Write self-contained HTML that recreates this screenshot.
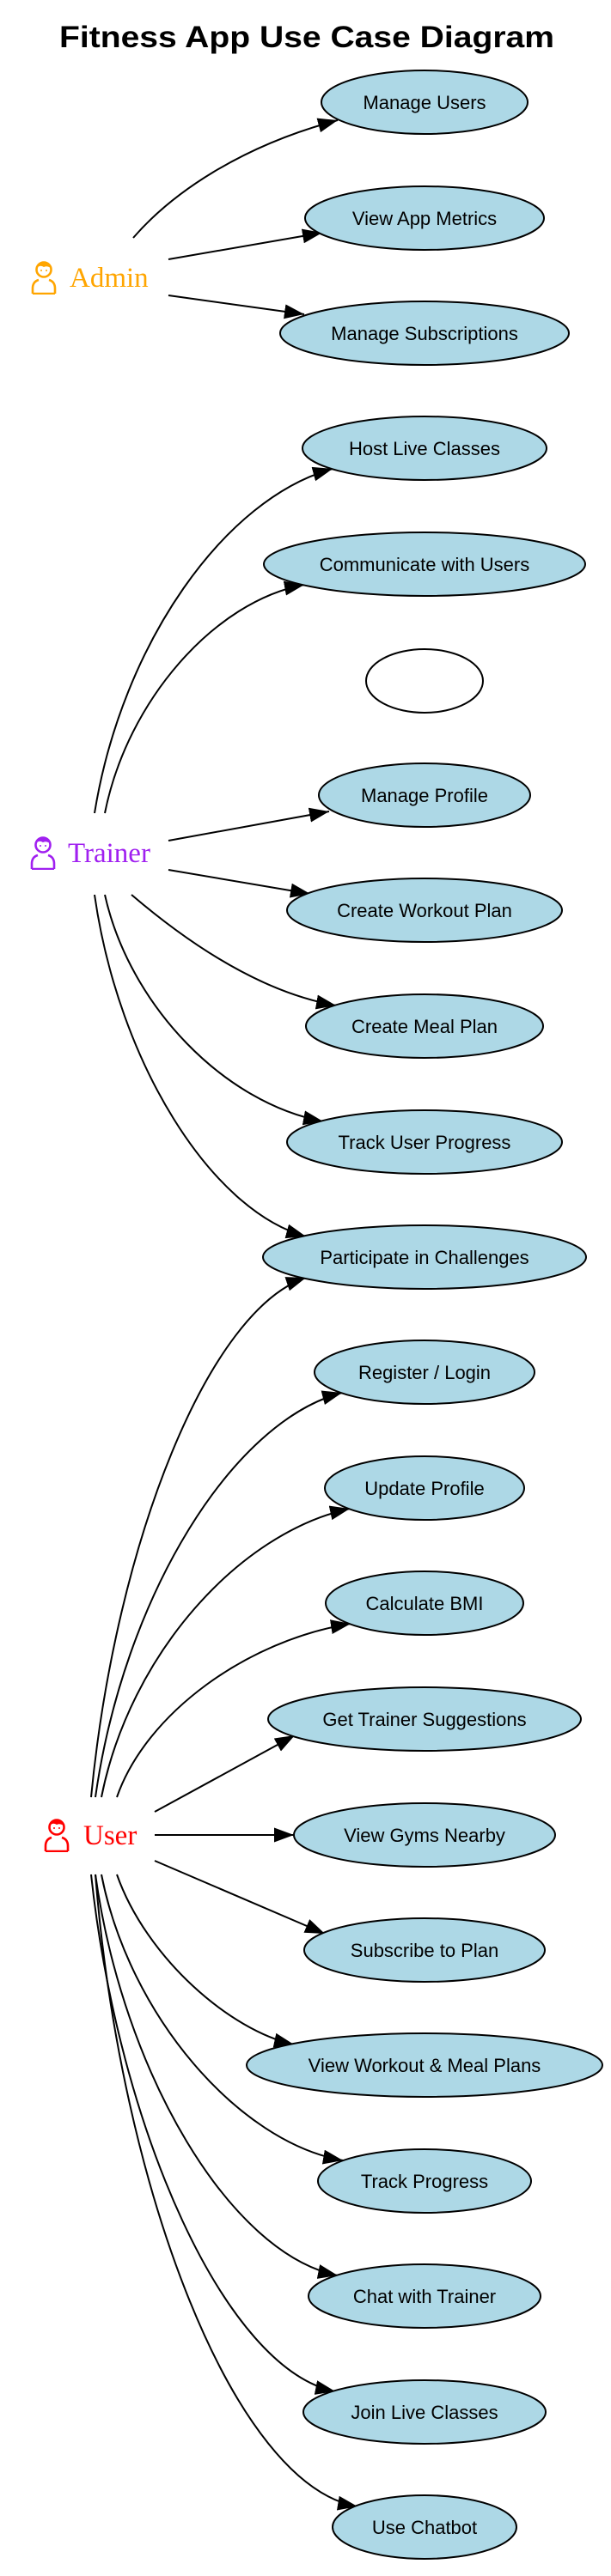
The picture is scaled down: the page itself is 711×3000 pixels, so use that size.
<!DOCTYPE html>
<html><head><meta charset="utf-8"><style>html,body{margin:0;padding:0;background:#fff}svg{display:block}</style></head>
<body>
<svg width="711" height="3000" viewBox="0 0 711 3000" xmlns="http://www.w3.org/2000/svg">
<defs>
<marker id="a" markerUnits="userSpaceOnUse" markerWidth="24" markerHeight="18" refX="23" refY="8.5" orient="auto"><path d="M0,0 L23,8.5 L0,17 z" fill="#000"/></marker>
<symbol id="p" viewBox="0 0 32 40"><g fill="none" stroke="currentColor" stroke-width="2.6"><circle cx="16" cy="11" r="8.5"/><path d="M3,39 V33 Q3,25 10,23 M29,39 V33 Q29,25 22,23 M3,39 H29"/></g><path d="M7.5,9 Q10,2 16,2.5 Q23,2 24.5,9 Q19,6 16,8 Q12,5 7.5,9z" fill="currentColor"/><circle cx="13" cy="12" r="1" fill="currentColor"/><circle cx="19" cy="12" r="1" fill="currentColor"/></symbol>
</defs>
<rect width="711" height="3000" fill="#fff"/>
<text x="357" y="55" text-anchor="middle" font-family="Liberation Sans, sans-serif" font-weight="bold" font-size="35" textLength="576" lengthAdjust="spacingAndGlyphs">Fitness App Use Case Diagram</text>

<g fill="none" stroke="#000" stroke-width="2" marker-end="url(#a)">
<path d="M155,277 C200,225 280,170 393,140"/>
<path d="M196,302 L375,271"/>
<path d="M196,344 L354,366"/>
<path d="M110,947 C142,749 262,580 387,546"/>
<path d="M122,947 C148,816 250,700 354,681"/>
<path d="M196,979 L383,945"/>
<path d="M196,1013 L361,1041"/>
<path d="M153,1042 C215,1095 300,1155 391,1171"/>
<path d="M122,1042 C151,1172 262,1285 376,1306"/>
<path d="M110,1042 C138,1238 246,1410 356,1440"/>
<path d="M106,2093 C135,1793 244,1525 356,1488"/>
<path d="M111,2093 C144,1860 270,1655 398,1622"/>
<path d="M118,2093 C151,1927 278,1785 407,1757"/>
<path d="M136,2093 C170,1995 288,1910 408,1891"/>
<path d="M180,2110 L343,2021"/>
<path d="M180,2137 L342,2137"/>
<path d="M180,2167 L378,2252"/>
<path d="M136,2183 C170,2280 268,2365 342,2381"/>
<path d="M118,2183 C150,2347 278,2495 399,2516"/>
<path d="M111,2183 C143,2414 268,2625 393,2650"/>
<path d="M106,2183 C138,2481 263,2760 390,2785"/>
<path d="M111,2183 C140,2550 273,2895 416,2919"/>
</g>

<g fill="#add8e6" stroke="#000" stroke-width="2">
<ellipse cx="494" cy="119" rx="120" ry="37"/>
<ellipse cx="494" cy="254" rx="139" ry="37"/>
<ellipse cx="494" cy="388" rx="168" ry="37"/>
<ellipse cx="494" cy="522" rx="142" ry="37"/>
<ellipse cx="494" cy="657" rx="187" ry="37"/>
<ellipse cx="494" cy="793" rx="68" ry="37" fill="#fff"/>
<ellipse cx="494" cy="926" rx="123" ry="37"/>
<ellipse cx="494" cy="1060" rx="160" ry="37"/>
<ellipse cx="494" cy="1195" rx="138" ry="37"/>
<ellipse cx="494" cy="1330" rx="160" ry="37"/>
<ellipse cx="494" cy="1464" rx="188" ry="37"/>
<ellipse cx="494" cy="1598" rx="128" ry="37"/>
<ellipse cx="494" cy="1733" rx="116" ry="37"/>
<ellipse cx="494" cy="1867" rx="115" ry="37"/>
<ellipse cx="494" cy="2002" rx="182" ry="37"/>
<ellipse cx="494" cy="2137" rx="152" ry="37"/>
<ellipse cx="494" cy="2271" rx="140" ry="37"/>
<ellipse cx="494" cy="2405" rx="207" ry="37"/>
<ellipse cx="494" cy="2540" rx="124" ry="37"/>
<ellipse cx="494" cy="2674" rx="135" ry="37"/>
<ellipse cx="494" cy="2809" rx="141" ry="37"/>
<ellipse cx="494" cy="2943" rx="107" ry="37"/>
</g>

<g font-family="Liberation Sans, sans-serif" font-size="22" text-anchor="middle" fill="#000">
<text x="494" y="127">Manage Users</text>
<text x="494" y="262">View App Metrics</text>
<text x="494" y="396">Manage Subscriptions</text>
<text x="494" y="530">Host Live Classes</text>
<text x="494" y="665">Communicate with Users</text>
<text x="494" y="934">Manage Profile</text>
<text x="494" y="1068">Create Workout Plan</text>
<text x="494" y="1203">Create Meal Plan</text>
<text x="494" y="1338">Track User Progress</text>
<text x="494" y="1472">Participate in Challenges</text>
<text x="494" y="1606">Register / Login</text>
<text x="494" y="1741">Update Profile</text>
<text x="494" y="1875">Calculate BMI</text>
<text x="494" y="2010">Get Trainer Suggestions</text>
<text x="494" y="2145">View Gyms Nearby</text>
<text x="494" y="2279">Subscribe to Plan</text>
<text x="494" y="2413">View Workout &amp; Meal Plans</text>
<text x="494" y="2548">Track Progress</text>
<text x="494" y="2682">Chat with Trainer</text>
<text x="494" y="2817">Join Live Classes</text>
<text x="494" y="2951">Use Chatbot</text>
</g>

<g font-family="Liberation Serif, serif" font-size="33">
<use href="#p" x="35" y="303" width="32" height="40" style="color:#ffa500"/>
<text x="81" y="334" fill="#ffa500">Admin</text>
<use href="#p" x="34" y="973" width="32" height="40" style="color:#a020f0"/>
<text x="79" y="1004" fill="#a020f0">Trainer</text>
<use href="#p" x="50" y="2117" width="32" height="40" style="color:#ff0000"/>
<text x="97" y="2148" fill="#ff0000">User</text>
</g>
</svg>
</body></html>
